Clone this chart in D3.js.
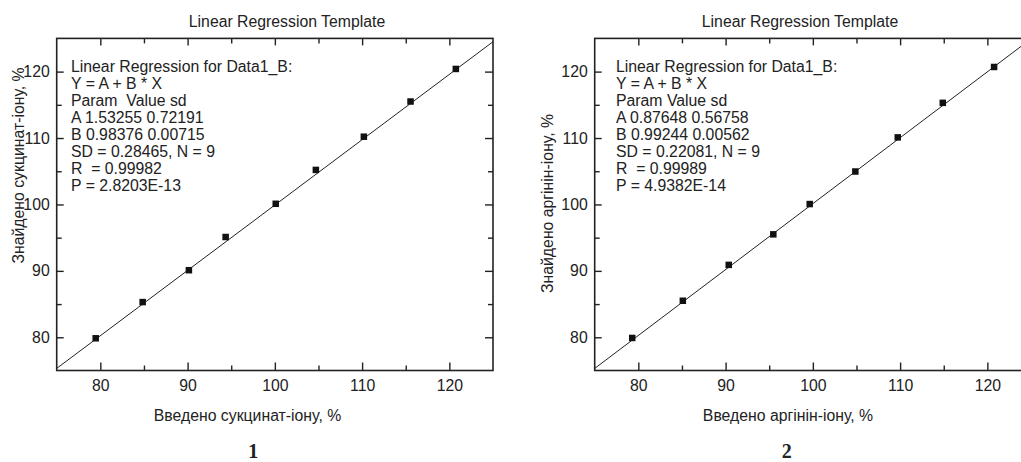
<!DOCTYPE html>
<html><head><meta charset="utf-8">
<script src="https://cdn.jsdelivr.net/npm/d3@7"></script>
<style>
body{margin:0;background:#fff;}
text{font-family:Arial,"Liberation Sans",sans-serif;fill:#222;}
</style></head>
<body>
<svg id="c" width="1021" height="462"></svg>
<script>
// ---- data ----
const xDomain = [75, 125];
const yDomain = [75, 125];
const majorTicks = [80, 90, 100, 110, 120];
const minorTicks = [85, 95, 105, 115];

const x1 = [79.47, 84.85, 90.15, 94.36, 100.1, 104.7, 110.2, 115.55, 120.74];
const y1 = [79.85, 85.3, 90.1, 95.1, 100.1, 105.2, 110.2, 115.5, 120.4];
const fit1 = {A: 1.53255, B: 0.98376};
const note1 = ["Linear Regression for Data1_B:", "Y = A + B * X", "Param  Value sd",
  "A 1.53255 0.72191", "B 0.98376 0.00715", "SD = 0.28465, N = 9", "R  = 0.99982", "P = 2.8203E-13"];

const x2 = [79.3, 85.1, 90.36, 95.47, 99.64, 104.87, 109.73, 114.89, 120.77];
const y2 = [79.9, 85.5, 90.9, 95.5, 100.06, 104.96, 110.1, 115.3, 120.7];
const fit2 = {A: 0.87648, B: 0.99244};
const note2 = ["Linear Regression for Data1_B:", "Y = A + B * X", "Param Value sd",
  "A 0.87648 0.56758", "B 0.99244 0.00562", "SD = 0.22081, N = 9", "R  = 0.99989", "P = 4.9382E-14"];

const titleText = "Linear Regression Template";
const xLabels = ["Введено сукцинат-іону, %", "Введено аргінін-іону, %"];
const yLabels = ["Знайдено сукцинат-іону, %", "Знайдено аргінін-іону, %"];
const panelNumbers = ["1", "2"];

// ---- drawing ----
const svg = d3.select("#c");
const plotTop = 38.4, plotBottom = 370.5;
const FS = 15.8;

const panels = [
  {xs: x1, ys: y1, fit: fit1, note: note1, left: 56.7, right: 493, noteX: 71, titleX: 287,
   xLabX: 247.5, yLabX: 18.5, yLabY: 165.5, numX: 253.3},
  {xs: x2, ys: y2, fit: fit2, note: note2, left: 594.7, right: 1031, noteX: 616, titleX: 800,
   xLabX: 788, yLabX: 547.5, yLabY: 203.5, numX: 786.7}
];

panels.forEach((p, i) => {
  const g = svg.append("g");
  const x = d3.scaleLinear().domain(xDomain).range([p.left, p.right]);
  const y = d3.scaleLinear().domain(yDomain).range([plotBottom, plotTop]);

  const styleAxis = sel => {
    sel.select(".domain").remove();
    sel.selectAll("line").attr("stroke", "#222").attr("stroke-width", 1.4);
    sel.selectAll("text").attr("font-size", FS).attr("fill", "#222")
       .attr("font-family", "Arial, 'Liberation Sans', sans-serif");
  };

  // major ticks (inward)
  g.append("g").attr("transform", `translate(0,${plotBottom})`)
    .call(d3.axisBottom(x).tickValues(majorTicks).tickSizeInner(-8).tickSizeOuter(0).tickPadding(9))
    .call(styleAxis);
  g.append("g").attr("transform", `translate(0,${plotTop})`)
    .call(d3.axisTop(x).tickValues(majorTicks).tickSizeInner(-7).tickSizeOuter(0).tickFormat(""))
    .call(styleAxis);
  g.append("g").attr("transform", `translate(${p.left},0)`)
    .call(d3.axisLeft(y).tickValues(majorTicks).tickSizeInner(-7).tickSizeOuter(0).tickPadding(7))
    .call(styleAxis);
  g.append("g").attr("transform", `translate(${p.right},0)`)
    .call(d3.axisRight(y).tickValues(majorTicks).tickSizeInner(-8).tickSizeOuter(0).tickFormat(""))
    .call(styleAxis);
  // minor ticks
  g.append("g").attr("transform", `translate(0,${plotBottom})`)
    .call(d3.axisBottom(x).tickValues(minorTicks).tickSizeInner(-5).tickSizeOuter(0).tickFormat(""))
    .call(styleAxis);
  g.append("g").attr("transform", `translate(0,${plotTop})`)
    .call(d3.axisTop(x).tickValues(minorTicks).tickSizeInner(-5).tickSizeOuter(0).tickFormat(""))
    .call(styleAxis);
  g.append("g").attr("transform", `translate(${p.left},0)`)
    .call(d3.axisLeft(y).tickValues(minorTicks).tickSizeInner(-5).tickSizeOuter(0).tickFormat(""))
    .call(styleAxis);
  g.append("g").attr("transform", `translate(${p.right},0)`)
    .call(d3.axisRight(y).tickValues(minorTicks).tickSizeInner(-5).tickSizeOuter(0).tickFormat(""))
    .call(styleAxis);

  // frame
  g.append("rect").attr("x", x(xDomain[0])).attr("y", y(yDomain[1]))
    .attr("width", x(xDomain[1]) - x(xDomain[0])).attr("height", y(yDomain[0]) - y(yDomain[1]))
    .attr("fill", "none").attr("stroke", "#222").attr("stroke-width", 1.6);

  // regression line
  const lx = xDomain;
  g.append("line")
    .attr("x1", x(lx[0])).attr("y1", y(p.fit.A + p.fit.B * lx[0]))
    .attr("x2", x(lx[1])).attr("y2", y(p.fit.A + p.fit.B * lx[1]))
    .attr("stroke", "#222").attr("stroke-width", 1);

  // points
  const ms = 6.5;
  g.selectAll("rect.pt").data(p.xs.map((v, k) => [v, p.ys[k]])).enter()
    .append("rect").attr("class", "pt")
    .attr("x", d => x(d[0]) - ms / 2).attr("y", d => y(d[1]) - ms / 2)
    .attr("width", ms).attr("height", ms).attr("fill", "#111");

  // title
  g.append("text").attr("x", p.titleX).attr("y", 26.5).attr("text-anchor", "middle")
    .attr("font-size", FS).text(titleText);

  // note
  const nt = g.append("text").attr("font-size", FS).attr("xml:space", "preserve")
    .style("white-space", "pre");
  p.note.forEach((s, k) => {
    nt.append("tspan").attr("x", p.noteX).attr("y", 71.7 + 17.05 * k).text(s);
  });

  // axis labels
  g.append("text").attr("x", p.xLabX).attr("y", 421).attr("text-anchor", "middle")
    .attr("font-size", FS).text(xLabels[i]);
  g.append("text").attr("transform", `translate(${p.yLabX},${p.yLabY}) rotate(-90)`)
    .attr("text-anchor", "middle").attr("dy", "0.35em")
    .attr("font-size", FS).text(yLabels[i]);

  // panel number
  g.append("text").attr("x", p.numX).attr("y", 457.5).attr("text-anchor", "middle")
    .attr("font-size", 20).attr("font-weight", "bold")
    .style("font-family", "'Liberation Serif','Times New Roman',serif").text(panelNumbers[i]);
});
</script>
</body></html>
